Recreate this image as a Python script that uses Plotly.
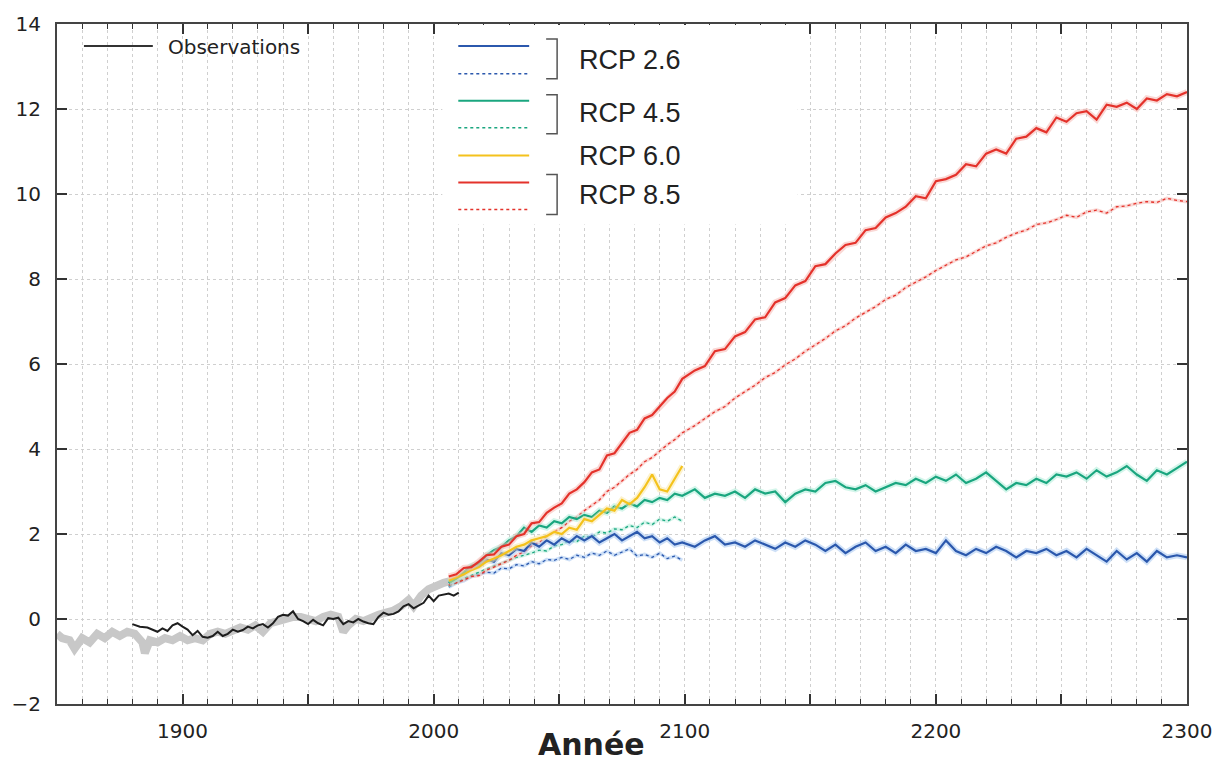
import plotly.graph_objects as go

# ---------------- data ----------------
GRAY_YEARS = [1850, 1852, 1855, 1857, 1860, 1863, 1866, 1869, 1872, 1875, 1878, 1881, 1884, 1885, 1887,
              1890, 1893, 1896, 1899, 1902, 1905, 1908, 1911, 1914, 1917, 1920, 1923, 1926, 1929, 1932,
              1935, 1938, 1941, 1944, 1947, 1950, 1953, 1956, 1959, 1962, 1964, 1966, 1969, 1972, 1975,
              1978, 1981, 1984, 1987, 1990, 1992, 1995, 1998, 2001, 2004, 2007, 2010]
GRAY_VALS = [-0.35, -0.45, -0.5, -0.7, -0.45, -0.55, -0.35, -0.45, -0.3, -0.4, -0.3, -0.35, -0.55, -0.8, -0.5,
             -0.55, -0.45, -0.5, -0.4, -0.5, -0.45, -0.5, -0.35, -0.3, -0.35, -0.25, -0.2, -0.25, -0.15, -0.3,
             -0.1, -0.05, 0.0, 0.05, 0.05, 0.0, -0.05, 0.05, 0.1, 0.05, -0.3, -0.15, 0.0, -0.05, 0.05,
             0.1, 0.15, 0.2, 0.3, 0.45, 0.3, 0.55, 0.7, 0.8, 0.85, 0.9, 0.95]

OBS_YEARS = [1880, 1883, 1886, 1888, 1890, 1892, 1894, 1896, 1898, 1900, 1902, 1904, 1906, 1908, 1910,
             1912, 1914, 1916, 1918, 1920, 1922, 1924, 1926, 1928, 1930, 1932, 1934, 1936, 1938, 1940,
             1942, 1944, 1946, 1948, 1950, 1952, 1954, 1956, 1958, 1960, 1962, 1964, 1966, 1968, 1970,
             1972, 1974, 1976, 1978, 1980, 1982, 1984, 1986, 1988, 1990, 1992, 1994, 1996, 1998, 2000,
             2002, 2004, 2006, 2008, 2010]
OBS_VALS = [-0.12, -0.18, -0.2, -0.25, -0.3, -0.22, -0.28, -0.15, -0.1, -0.18, -0.25, -0.38, -0.28, -0.42, -0.44,
            -0.4, -0.3, -0.4, -0.35, -0.25, -0.3, -0.26, -0.18, -0.22, -0.15, -0.12, -0.2, -0.1, 0.05, 0.1,
            0.08, 0.18, 0.0, -0.05, -0.12, -0.02, -0.1, -0.15, 0.02, 0.0, 0.03, -0.12, -0.05, -0.08, 0.0,
            -0.06, -0.1, -0.12, 0.05, 0.15, 0.1, 0.12, 0.18, 0.3, 0.35, 0.25, 0.32, 0.38, 0.55, 0.42,
            0.55, 0.58, 0.6, 0.55, 0.62]

YEARS_SHORT = list(range(2006, 2101, 3))          # 2006 .. 2099
YEARS_LONG = YEARS_SHORT + list(range(2104, 2301, 4))  # .. 2300

RCP26 = [0.85, 0.95, 1.05, 1.20, 1.25, 1.40, 1.35, 1.55, 1.50, 1.65, 1.60, 1.80, 1.70, 1.85, 1.75, 1.90,
         1.80, 1.95, 1.85, 1.95, 1.80, 1.90, 2.00, 1.85, 1.95, 2.05, 1.90, 1.95, 1.80, 1.90, 1.75, 1.80,
         1.70, 1.85, 1.95, 1.75, 1.80, 1.70, 1.85, 1.75, 1.65, 1.80, 1.70, 1.85, 1.75, 1.60, 1.75, 1.55,
         1.70, 1.80, 1.60, 1.70, 1.55, 1.75, 1.60, 1.65, 1.55, 1.85, 1.60, 1.50, 1.65, 1.55, 1.70, 1.60,
         1.45, 1.60, 1.55, 1.65, 1.50, 1.60, 1.45, 1.65, 1.50, 1.35, 1.60, 1.40, 1.55, 1.35, 1.60, 1.45,
         1.50, 1.45]
RCP26_ALT = [0.75, 0.85, 0.90, 1.00, 1.05, 1.10, 1.08, 1.20, 1.18, 1.28, 1.25, 1.35, 1.30, 1.40, 1.38, 1.45,
             1.40, 1.50, 1.45, 1.55, 1.50, 1.60, 1.50, 1.58, 1.65, 1.48, 1.52, 1.45, 1.55, 1.42, 1.48, 1.38]

RCP45 = [0.85, 0.95, 1.10, 1.25, 1.30, 1.50, 1.62, 1.70, 1.85, 1.95, 2.15, 2.05, 2.20, 2.15, 2.30, 2.25,
         2.40, 2.35, 2.45, 2.40, 2.55, 2.50, 2.65, 2.60, 2.72, 2.65, 2.80, 2.75, 2.85, 2.80, 2.95, 2.90,
         3.05, 2.85, 2.95, 2.90, 3.00, 2.85, 3.05, 2.95, 3.00, 2.75, 2.95, 3.05, 3.00, 3.20, 3.25, 3.10,
         3.05, 3.15, 3.00, 3.10, 3.20, 3.15, 3.30, 3.20, 3.35, 3.25, 3.40, 3.20, 3.30, 3.45, 3.25, 3.05,
         3.20, 3.15, 3.30, 3.20, 3.40, 3.35, 3.45, 3.30, 3.50, 3.35, 3.45, 3.60, 3.40, 3.25, 3.50, 3.40,
         3.55, 3.70]
RCP45_ALT = [0.78, 0.85, 0.95, 1.02, 1.10, 1.18, 1.25, 1.32, 1.38, 1.45, 1.50, 1.55, 1.62, 1.60, 1.72, 1.75,
             1.85, 1.82, 1.95, 1.92, 2.05, 2.02, 2.12, 2.10, 2.20, 2.15, 2.28, 2.22, 2.35, 2.30, 2.40, 2.30]

RCP60 = [0.90, 0.98, 1.05, 1.15, 1.22, 1.35, 1.42, 1.50, 1.60, 1.70, 1.75, 1.85, 1.90, 1.95, 2.05, 2.00,
         2.15, 2.10, 2.35, 2.30, 2.45, 2.60, 2.55, 2.80, 2.70, 2.85, 3.10, 3.40, 3.05, 3.00, 3.30, 3.60]

RCP85 = [1.00, 1.05, 1.20, 1.22, 1.35, 1.50, 1.52, 1.70, 1.75, 1.95, 2.00, 2.25, 2.28, 2.50, 2.62, 2.72,
         2.95, 3.05, 3.22, 3.45, 3.52, 3.85, 3.90, 4.15, 4.38, 4.45, 4.72, 4.80, 5.00, 5.20, 5.35, 5.65,
         5.85, 5.95, 6.30, 6.35, 6.65, 6.75, 7.05, 7.10, 7.45, 7.55, 7.85, 7.95, 8.30, 8.35, 8.60, 8.80,
         8.85, 9.15, 9.20, 9.45, 9.55, 9.70, 9.95, 9.90, 10.30, 10.35, 10.45, 10.70, 10.65, 10.95, 11.05, 10.95,
         11.30, 11.35, 11.55, 11.45, 11.80, 11.70, 11.90, 11.95, 11.75, 12.10, 12.05, 12.15, 12.00, 12.25, 12.20, 12.35,
         12.30, 12.40]
RCP85_ALT = [0.80, 0.85, 0.92, 1.00, 1.02, 1.15, 1.22, 1.30, 1.38, 1.50, 1.58, 1.72, 1.80, 1.95, 2.05, 2.15,
             2.30, 2.40, 2.55, 2.68, 2.80, 3.00, 3.10, 3.25, 3.40, 3.52, 3.70, 3.80, 3.95, 4.10, 4.22, 4.38,
             4.55, 4.72, 4.88, 5.00, 5.20, 5.35, 5.50, 5.68, 5.80, 5.98, 6.12, 6.30, 6.45, 6.60, 6.78, 6.90,
             7.08, 7.22, 7.35, 7.52, 7.62, 7.80, 7.92, 8.05, 8.20, 8.32, 8.45, 8.52, 8.65, 8.78, 8.85, 8.98,
             9.08, 9.15, 9.28, 9.32, 9.40, 9.50, 9.45, 9.58, 9.62, 9.55, 9.70, 9.72, 9.78, 9.82, 9.80, 9.90,
             9.85, 9.82]

X_TICKS = [1850, 1900, 1950, 2000, 2050, 2100, 2150, 2200, 2250, 2300]
X_TICK_TEXT = ["", "1900", "", "2000", "", "2100", "", "2200", "", "2300"]
Y_TICKS = [-2, 0, 2, 4, 6, 8, 10, 12, 14]

BLUE = "#2b58ad"
GREEN = "#1aa67f"
YELLOW = "#f4c21c"
RED = "#e4322b"

# ---------------- figure ----------------
fig = go.Figure()

# gray observation spread
fig.add_trace(go.Scatter(x=GRAY_YEARS, y=GRAY_VALS, mode="lines",
                         line=dict(color="#c8c8c8", width=8), showlegend=False, hoverinfo="skip"))
fig.add_trace(go.Scatter(x=OBS_YEARS, y=OBS_VALS, mode="lines",
                         line=dict(color="#1e1e1e", width=2), showlegend=False))

def add_series(xs, ys, color, halo, dotted=False):
    fig.add_trace(go.Scatter(x=xs, y=ys, mode="lines",
                             line=dict(color=halo, width=3.5 if dotted else 6),
                             opacity=0.5, showlegend=False, hoverinfo="skip"))
    fig.add_trace(go.Scatter(x=xs, y=ys, mode="lines",
                             line=dict(color=color, width=1.3 if dotted else 2.2,
                                       dash="dot" if dotted else "solid"),
                             showlegend=False))

add_series(YEARS_SHORT, RCP26_ALT, BLUE, "#9fc3f0", dotted=True)
add_series(YEARS_SHORT, RCP45_ALT, GREEN, "#a8ecd6", dotted=True)
add_series(YEARS_LONG, RCP85_ALT, RED, "#f7b3ad", dotted=True)
add_series(YEARS_LONG, RCP26, BLUE, "#9fc3f0")
add_series(YEARS_LONG, RCP45, GREEN, "#a8ecd6")
add_series(YEARS_SHORT, RCP60, YELLOW, "#fbe7a0")
add_series(YEARS_LONG, RCP85, RED, "#f7b3ad")

# ---------------- layout helpers (pixel -> paper) ----------------
L, R, T, B = 55, 1187, 22, 704
def px(x):
    return (x - L) / (R - L)
def py(y):
    return (B - y) / (B - T)

shapes = []
annotations = []

# white legend box
shapes.append(dict(type="rect", xref="paper", yref="paper", x0=px(441), x1=px(797), y0=py(223), y1=py(23),
                   fillcolor="white", line=dict(width=0), layer="above"))

# observations legend
shapes.append(dict(type="line", xref="paper", yref="paper", x0=px(82), x1=px(151), y0=py(44), y1=py(44),
                   line=dict(color="#333333", width=2), layer="above"))
annotations.append(dict(xref="paper", yref="paper", x=px(164), y=py(45), text="Observations",
                        showarrow=False, xanchor="left", yanchor="middle",
                        font=dict(family="DejaVu Sans", size=20, color="#222222")))

legend_lines = [
    (44, BLUE, "solid"), (72, BLUE, "dot"),
    (99, GREEN, "solid"), (126, GREEN, "dot"),
    (154, YELLOW, "solid"),
    (181, RED, "solid"), (208, RED, "dot"),
]
for yy, col, dash in legend_lines:
    shapes.append(dict(type="line", xref="paper", yref="paper", x0=px(457), x1=px(528),
                       y0=py(yy), y1=py(yy),
                       line=dict(color=col, width=2 if dash == "solid" else 1.5, dash=dash), layer="above"))

for y0b, y1b in [(37, 77), (93, 132), (173, 213)]:
    shapes.append(dict(type="path", xref="paper", yref="paper",
                       path=f"M {px(545)},{py(y0b)} L {px(556)},{py(y0b)} L {px(556)},{py(y1b)} L {px(545)},{py(y1b)}",
                       line=dict(color="#555555", width=1.5), layer="above"))

for txt, yy in [("RCP 2.6", 58), ("RCP 4.5", 111), ("RCP 6.0", 154), ("RCP 8.5", 194)]:
    annotations.append(dict(xref="paper", yref="paper", x=px(576), y=py(yy), text=txt,
                            showarrow=False, xanchor="left", yanchor="middle",
                            font=dict(family="Liberation Sans", size=27, color="#222222")))

# axis title
annotations.append(dict(xref="paper", yref="paper", x=px(590), y=py(745), text="<b>Année</b>",
                        showarrow=False, xanchor="center", yanchor="middle",
                        font=dict(family="DejaVu Sans", size=30, color="#222222")))

fig.update_layout(
    width=1231, height=762,
    margin=dict(l=L, r=1231 - R, t=T, b=762 - B),
    paper_bgcolor="white", plot_bgcolor="white",
    shapes=shapes, annotations=annotations,
    showlegend=False,
)

fig.update_xaxes(
    range=[1850, 2300], tickmode="array", tickvals=X_TICKS, ticktext=X_TICK_TEXT,
    ticks="inside", ticklen=10, tickwidth=1.5, tickcolor="#333333",
    showline=True, linecolor="#444444", linewidth=2, mirror="ticks",
    showgrid=True, gridcolor="#cfcfcf", griddash="dot", gridwidth=1,
    minor=dict(dtick=10, tick0=1850, ticks="inside", ticklen=5, tickcolor="#333333", tickwidth=1,
               showgrid=True, gridcolor="#cfcfcf", griddash="dot", gridwidth=1),
    tickfont=dict(family="DejaVu Sans", size=20, color="#222222"),
    ticklabelstandoff=8, zeroline=False,
)
fig.update_yaxes(
    range=[-2, 14], tickmode="array", tickvals=Y_TICKS,
    ticks="inside", ticklen=10, tickwidth=1.5, tickcolor="#333333",
    showline=True, linecolor="#444444", linewidth=2, mirror="ticks",
    showgrid=True, gridcolor="#cfcfcf", griddash="dot", gridwidth=1,
    tickfont=dict(family="DejaVu Sans", size=20, color="#222222"),
    ticklabelstandoff=10, zeroline=False,
)

fig.write_html("out.html", config={"displayModeBar": False},
               post_script="document.body.style.margin='0';document.body.style.overflow='hidden';")
